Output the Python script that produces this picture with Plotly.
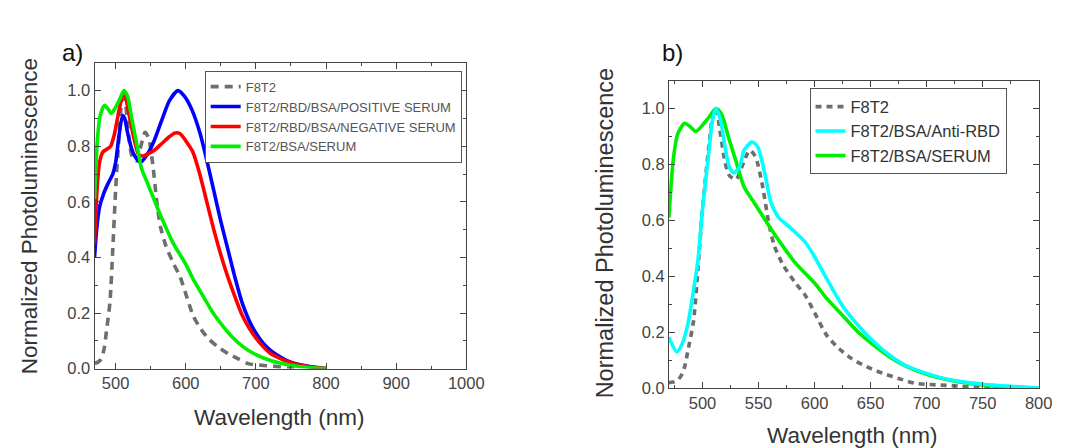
import plotly.graph_objects as go

# ---------------- data ----------------
# F8T2 (shared in both panels)
f8t2_x = [470, 474, 478, 481, 484, 487, 492, 496, 500, 505, 509, 512, 516, 520, 524, 530, 535, 542, 547, 553,
          559, 564, 572, 583, 592, 600, 611, 622, 633, 647, 661, 675, 689, 708, 728, 744, 760]
f8t2_y = [0.02, 0.022, 0.03, 0.045, 0.076, 0.135, 0.24, 0.43, 0.64, 0.84, 0.97, 1.0, 0.91, 0.81, 0.76, 0.747, 0.79,
          0.85, 0.83, 0.735, 0.594, 0.51, 0.44, 0.376, 0.33, 0.27, 0.188, 0.141, 0.106, 0.076, 0.053, 0.035,
          0.018, 0.012, 0.008, 0.002, 0.0]

# F8T2/RBD/BSA/POSITIVE SERUM
pos_x = [470, 473, 477, 483, 490, 496, 500, 505, 510, 513, 517, 523, 530, 536, 545, 555, 566, 577, 589, 598,
         609, 620, 630, 640, 650, 660, 670, 680, 690, 700, 710, 720, 735, 750, 775, 800]
pos_y = [0.40, 0.50, 0.58, 0.63, 0.67, 0.70, 0.74, 0.84, 0.91, 0.90, 0.85, 0.79, 0.755, 0.743, 0.77, 0.82, 0.895,
         0.965, 1.0, 0.98, 0.93, 0.85, 0.75, 0.64, 0.53, 0.43, 0.33, 0.24, 0.175, 0.128, 0.092, 0.067, 0.042,
         0.023, 0.008, 0.0]

# F8T2/RBD/BSA/NEGATIVE SERUM
neg_x = [470, 473, 477, 482, 488, 493, 498, 505, 511, 514, 518, 527, 533, 540, 548, 555, 566, 577, 585, 592,
         600, 610, 620, 630, 640, 650, 660, 670, 680, 690, 700, 710, 720, 735, 750, 775, 800]
neg_y = [0.45, 0.62, 0.74, 0.78, 0.79, 0.80, 0.84, 0.93, 0.99, 0.98, 0.93, 0.82, 0.77, 0.765, 0.775, 0.785, 0.81,
         0.835, 0.848, 0.845, 0.82, 0.78, 0.70, 0.60, 0.50, 0.41, 0.33, 0.26, 0.195, 0.148, 0.11, 0.08, 0.056,
         0.036, 0.021, 0.007, 0.0]

# F8T2/BSA/SERUM (shared in both panels)
serum_x = [470, 474, 478, 484, 489, 494, 500, 506, 512, 517, 523, 530, 537, 545, 553, 561, 572, 583, 600, 611,
           625, 639, 653, 667, 681, 700, 722, 750, 775, 800]
serum_y = [0.61, 0.82, 0.91, 0.947, 0.935, 0.918, 0.94, 0.97, 1.0, 0.98, 0.9, 0.81, 0.72, 0.67, 0.62, 0.57, 0.506,
           0.447, 0.376, 0.32, 0.26, 0.2, 0.153, 0.112, 0.08, 0.05, 0.028, 0.012, 0.004, 0.0]

# F8T2/BSA/Anti-RBD
anti_x = [470, 477, 482, 487, 492, 496, 500, 505, 509, 512, 516, 520, 524, 528, 533, 537, 544, 549, 556, 561,
          568, 578, 586, 592, 600, 611, 625, 639, 653, 667, 681, 700, 722, 750, 778, 800]
anti_y = [0.182, 0.13, 0.16, 0.23, 0.35, 0.46, 0.64, 0.82, 0.96, 1.0, 0.96, 0.865, 0.79, 0.77, 0.79, 0.85, 0.88,
          0.865, 0.76, 0.665, 0.61, 0.575, 0.545, 0.52, 0.47, 0.39, 0.294, 0.224, 0.165, 0.118, 0.082, 0.053,
          0.029, 0.014, 0.006, 0.001]

# axis settings
a_xticks = [500, 600, 700, 800, 900, 1000]
b_xticks = [500, 550, 600, 650, 700, 750, 800]
y_ticks = [0.0, 0.2, 0.4, 0.6, 0.8, 1.0]

# ---------------- figure ----------------
W, H = 1089, 448
GRAY = "#6e6e6e"
LW = 3.6
fig = go.Figure()

def add(x, y, name, color, xa, ya, leg, dash=None, rank=None):
    fig.add_trace(go.Scatter(
        x=x, y=y, name=name, mode="lines", xaxis=xa, yaxis=ya, legend=leg,
        legendrank=rank if rank is not None else 1000,
        line=dict(color=color, width=LW, dash=dash, shape="spline", smoothing=0.7)))

dash = "8px,6px"
add(f8t2_x, f8t2_y, "F8T2", GRAY, "x", "y", "legend", dash)
add(pos_x, pos_y, "F8T2/RBD/BSA/POSITIVE SERUM", "#0000ff", "x", "y", "legend")
add(neg_x, neg_y, "F8T2/RBD/BSA/NEGATIVE SERUM", "#ff0000", "x", "y", "legend")
add(serum_x, serum_y, "F8T2/BSA/SERUM", "#00ee00", "x", "y", "legend")

add(f8t2_x, f8t2_y, "F8T2", GRAY, "x2", "y2", "legend2", "6px,5px", rank=1)
add(serum_x, serum_y, "F8T2/BSA/SERUM", "#00ee00", "x2", "y2", "legend2", rank=3)
add(anti_x, anti_y, "F8T2/BSA/Anti-RBD", "#00ffff", "x2", "y2", "legend2", rank=2)

AX = "#444444"
TICKFONT = dict(family="Liberation Sans, Arial", size=16.5, color="#444444")

def xaxis(domain, rng, ticks, minor_dtick, anchor):
    return dict(domain=domain, range=rng, tickvals=ticks, ticktext=[str(t) for t in ticks],
                showline=True, linecolor=AX, linewidth=1, mirror="allticks",
                ticks="inside", ticklen=6, tickcolor=AX, tickwidth=1,
                minor=dict(ticks="inside", ticklen=3, dtick=minor_dtick, tick0=500, tickcolor=AX),
                showgrid=False, zeroline=False, tickfont=TICKFONT, anchor=anchor, fixedrange=True)

def yaxis(domain, anchor):
    return dict(domain=domain, range=[0, 1.1], tickvals=y_ticks, ticktext=[f"{v:.1f}" for v in y_ticks],
                showline=True, linecolor=AX, linewidth=1, mirror="allticks",
                ticks="inside", ticklen=6, tickcolor=AX, tickwidth=1,
                minor=dict(ticks="inside", ticklen=3, dtick=0.1, tick0=0, tickcolor=AX),
                showgrid=False, zeroline=False, tickfont=TICKFONT, anchor=anchor, fixedrange=True)

ax_l, ax_r, ax_t, ax_b = 88, 466, 56, 368
bx_l, bx_r, bx_t, bx_b = 672, 1048, 74, 388

fig.update_layout(
    width=W, height=H, margin=dict(l=0, r=0, t=0, b=0),
    paper_bgcolor="white", plot_bgcolor="white",
    font=dict(family="Liberation Sans, Arial", color="#333333"),
    xaxis=xaxis([ax_l / W, ax_r / W], [470, 1000], a_xticks, 50, "y"),
    yaxis=yaxis([1 - ax_b / H, 1 - ax_t / H], "x"),
    xaxis2=xaxis([bx_l / W, bx_r / W], [470, 800], b_xticks, 25, "y2"),
    yaxis2=yaxis([1 - bx_b / H, 1 - bx_t / H], "x2"),
    legend=dict(x=200 / W, y=1 - 64 / H, xanchor="left", yanchor="top",
                bgcolor="white", bordercolor="#555555", borderwidth=1,
                font=dict(size=13, color="#555555"), tracegroupgap=0, itemwidth=30),
    legend2=dict(x=815 / W, y=1 - 82 / H, xanchor="left", yanchor="top",
                 bgcolor="white", bordercolor="#555555", borderwidth=1,
                 font=dict(size=16.5, color="#333333"), tracegroupgap=0, itemwidth=30),
    showlegend=True,
)

TITLE = dict(family="Liberation Sans, Arial", size=22.5, color="#333333")
ann = [
    dict(text="a)", x=66, y=45, font=dict(family="Liberation Sans, Arial", size=24, color="#111111")),
    dict(text="b)", x=676, y=45, font=dict(family="Liberation Sans, Arial", size=24, color="#111111")),
    dict(text="Wavelength (nm)", x=276, y=418, font=TITLE),
    dict(text="Wavelength (nm)", x=858, y=436, font=TITLE),
    dict(text="Normalized Photoluminescence", x=22, y=213, font=TITLE, textangle=-90),
    dict(text="Normalized Photoluminescence", x=607, y=230, font=dict(family="Liberation Sans, Arial", size=23.5, color="#333333"), textangle=-90),
]
for a in ann:
    fig.add_annotation(xref="paper", yref="paper", x=a["x"] / W, y=1 - a["y"] / H,
                       text=a["text"], showarrow=False, font=a["font"],
                       textangle=a.get("textangle", 0), xanchor="center", yanchor="middle")

fig.write_html("out.html")
